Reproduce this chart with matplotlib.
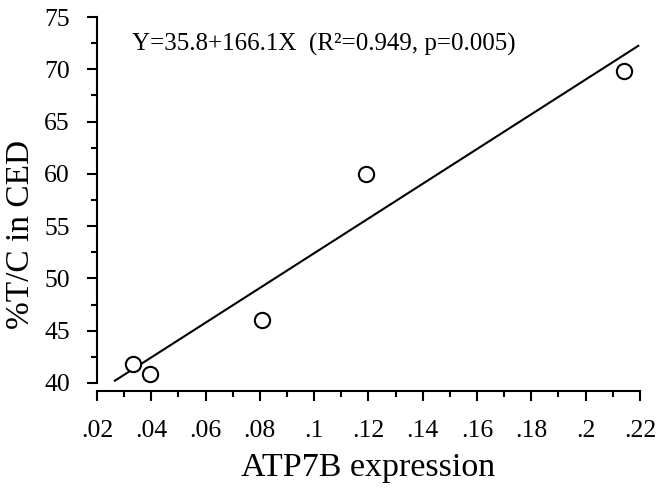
import numpy as np
import matplotlib
matplotlib.use("Agg")
import matplotlib.pyplot as plt
from matplotlib.ticker import MultipleLocator, FuncFormatter

# data
atp7b = [0.0331, 0.0395, 0.0807, 0.1191, 0.2140]
tc_ced = [41.85, 40.9, 46.05, 59.95, 69.85]

# regression given in the figure
intercept = 35.8
slope = 166.1
fit_x = [0.0266, 0.2194]

plt.rcParams['font.family'] = ['Liberation Serif', 'DejaVu Serif']

fig = plt.figure(figsize=(6.57, 4.90), dpi=100)
ax = fig.add_axes([0.1476, 0.2184, 0.8264, 0.7469])

fx = np.array(fit_x)
ax.plot(fx, intercept + slope * fx, color='black', lw=1.5, zorder=2)
ax.plot(atp7b, tc_ced, linestyle='none', marker='o', markersize=11,
        markerfacecolor='white', markeredgecolor='black', markeredgewidth=1.5,
        zorder=3)

ax.set_xlim(0.02, 0.22)
ax.set_ylim(40, 75)

ax.spines['top'].set_visible(False)
ax.spines['right'].set_visible(False)
ax.spines['bottom'].set_position(('outward', 6))
for s in ('left', 'bottom'):
    ax.spines[s].set_linewidth(1.5)

ax.xaxis.set_major_locator(MultipleLocator(0.02))
ax.xaxis.set_minor_locator(MultipleLocator(0.01))
ax.yaxis.set_major_locator(MultipleLocator(5))
ax.yaxis.set_minor_locator(MultipleLocator(2.5))


def fmt_x(v, pos):
    s = f"{v:.2f}".rstrip('0')
    return s[1:] if s.startswith('0') else s


ax.xaxis.set_major_formatter(FuncFormatter(fmt_x))
ax.tick_params(which='major', length=7.5, width=1.5, labelsize=18.5)
ax.tick_params(which='minor', length=4, width=1.5)
ax.tick_params(axis='x', which='major', length=7, pad=14)
ax.tick_params(axis='y', which='major', pad=12)

ax.set_xlabel('ATP7B expression', fontsize=24.5, labelpad=7)
ax.set_ylabel('%T/C in CED', fontsize=24)
ax.yaxis.set_label_coords(-0.112, 0.405)

ax.text(0.064, 0.926, 'Y=35.8+166.1X  (R²=0.949, p=0.005)',
        transform=ax.transAxes, fontsize=18, va='center', ha='left')

fig.savefig('out.png', dpi=100)
